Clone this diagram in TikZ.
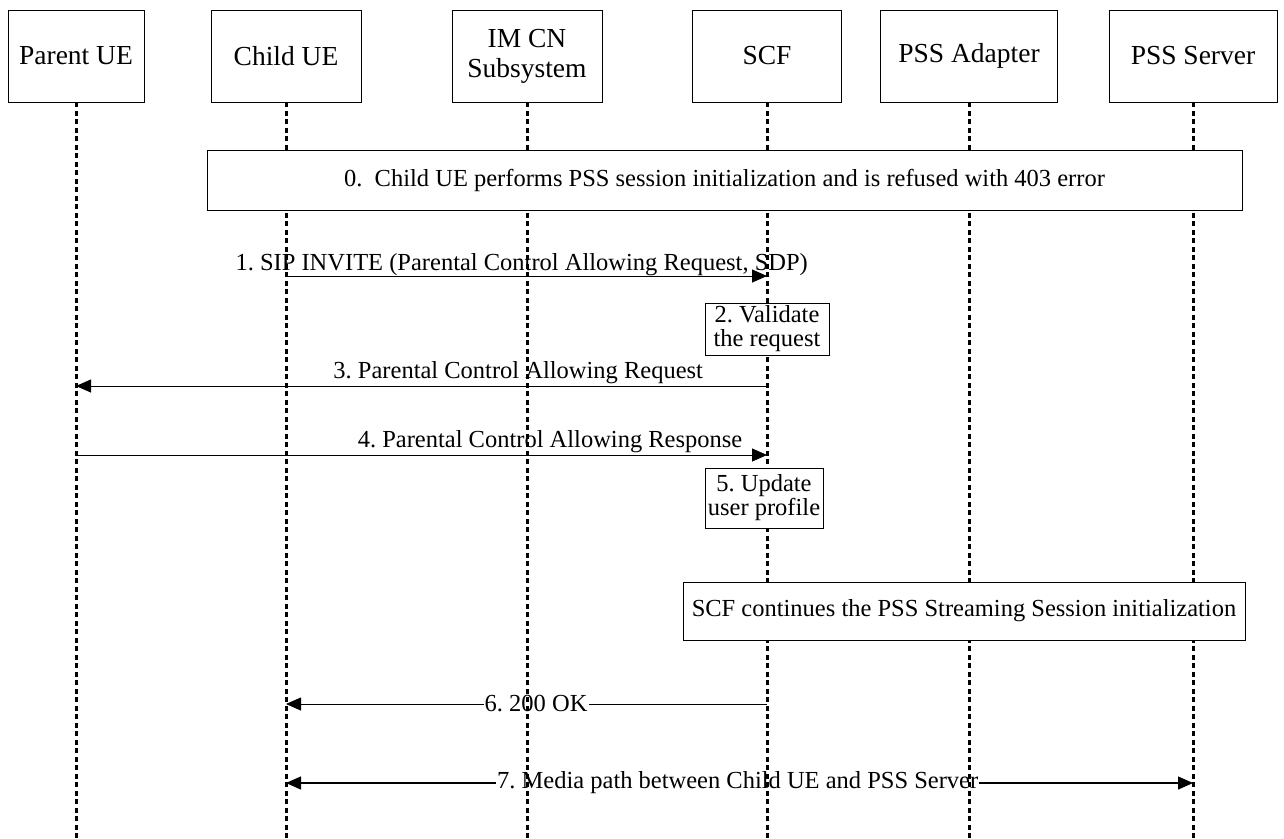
\documentclass[tikz,border=0pt]{standalone}
\usepackage{fontspec}
\setmainfont{Liberation Serif}
\usetikzlibrary{arrows.meta,positioning}
\frenchspacing

\begin{document}
\begin{tikzpicture}[x=1pt,y=-1pt,
  font=\fontsize{24.5}{26}\selectfont,
  actor/.style={draw,line width=0.8pt,minimum height=92pt,align=center,inner sep=0pt,font=\fontsize{27.5}{30}\selectfont},
  life/.style={line width=3pt,dash pattern=on 5pt off 3.5pt},
  msg/.style={-{Triangle[length=15pt,width=13pt]},line width=0.9pt},
  both/.style={{Triangle[length=15pt,width=13pt]}-{Triangle[length=15pt,width=13pt]},line width=1.2pt},
  lbl/.style={inner sep=0pt},
  inl/.style={fill=white,inner sep=1pt},
  note/.style={draw,fill=white,line width=0.8pt,align=center,inner sep=0pt,font=\fontsize{24.5}{24}\selectfont}]
\useasboundingbox (0,0) rectangle (1284,838);
% participants
\node[actor,minimum width=136pt] (parent) at (76,56) {Parent UE};
\node[actor,minimum width=150pt] (child) at (286,56) {Child UE};
\node[actor,minimum width=150pt] (imcn) at (527,56) {IM CN\\Subsystem};
\node[actor,minimum width=149pt] (scf) at (767,56) {SCF};
\node[actor,minimum width=177pt] (adapter) at (969,56) {PSS Adapter};
\node[actor,minimum width=168pt] (server) at (1193,56) {PSS Server};
\coordinate (bottom) at (0,838);
% message rows
\coordinate (m1) at (0,276);
\coordinate (m3) at (0,386);
\coordinate (m4) at (0,455);
\coordinate (m6) at (0,704);
\coordinate (m7) at (0,783);
\draw[msg] (child |- m1) -- node[lbl,above,pos=0.49] {1. SIP INVITE (Parental Control Allowing Request, SDP)} (scf |- m1);
\draw[msg] (scf |- m3) -- node[lbl,above,pos=0.36,yshift=2pt] {3. Parental Control Allowing Request} (parent |- m3);
\draw[msg] (parent |- m4) -- node[lbl,above,pos=0.686,yshift=2pt] {4. Parental Control Allowing Response} (scf |- m4);
\draw[msg] (scf |- m6) -- node[inl,pos=0.48] {6. 200 OK} (child |- m6);
\draw[both] (child |- m7) -- node[inl,pos=0.498] {7. Media path between Child UE and PSS Server} (server |- m7);
% lifelines
\foreach \n in {parent,child,imcn,scf,adapter,server}
  \draw[life] (\n.south) -- (\n.south |- bottom);
% notes
\node[note,minimum width=1035pt,minimum height=60pt] (init) at (724.5,180) {0.\ \ Child UE performs PSS session initialization and is refused with 403 error};
\node[note,minimum width=124pt,minimum height=52pt] (valid) at (767,329) {2. Validate\\the request};
\node[note,minimum width=118pt,minimum height=60pt] (update) at (764,498) {5. Update\\user profile};
\node[note,minimum width=562pt,minimum height=58pt] (cont) at (964,611) {SCF continues the PSS Streaming Session initialization};
\end{tikzpicture}
\end{document}
